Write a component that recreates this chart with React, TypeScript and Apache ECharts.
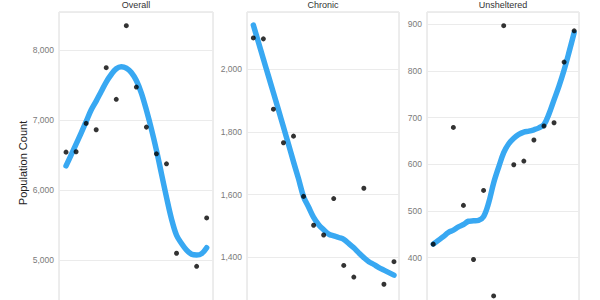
import React, { useEffect, useRef } from "react";
import * as echarts from "echarts";

const years = [2009, 2010, 2011, 2012, 2013, 2014, 2015, 2016, 2017, 2018, 2019, 2020, 2021, 2022, 2023];
const fitYears = [
  2009, 2009.5, 2010, 2010.5, 2011, 2011.5, 2012, 2012.5, 2013, 2013.5, 2014, 2014.5, 2015, 2015.5,
  2016, 2016.5, 2017, 2017.5, 2018, 2018.5, 2019, 2019.5, 2020, 2020.5, 2021, 2021.5, 2022, 2022.5, 2023,
];

const panelTitles = ["Overall", "Chronic", "Unsheltered"];

const overallCounts = [6543, 6548, 6953, 6862, 7748, 7296, 8347, 7471, 6900, 6519, 6376, 5100, null, 4914, 5604];
const chronicCounts = [2099, 2096, 1872, 1765, 1786, 1594, 1502, 1471, 1587, 1374, 1337, 1620, null, 1314, 1386];
const unshelteredCounts = [429, null, 679, 512, 396, 544, 318, 897, 599, 607, 652, 682, 689, 819, 886];

const overallFit = [
  6347, 6500, 6657, 6814, 6979, 7143, 7271, 7407, 7543, 7650, 7733, 7762, 7743, 7679, 7564, 7386, 7143, 6871,
  6570, 6235, 5900, 5590, 5357, 5240, 5145, 5086, 5075, 5095, 5180,
];
const chronicFit = [
  2140, 2086, 2032, 1978, 1924, 1870, 1815, 1760, 1704, 1650, 1593, 1560, 1527, 1504, 1488, 1474, 1468, 1463,
  1457, 1444, 1430, 1414, 1399, 1386, 1377, 1367, 1359, 1351, 1343,
];
const unshelteredFit = [
  429, 437, 445, 454, 459, 466, 471, 478, 479, 480, 488, 517, 560, 594, 625, 644, 656, 664, 669, 671, 674, 678,
  685, 708, 738, 768, 802, 841, 882,
];

// tick labels visible in the (cropped) view
const overallTicks = [5000, 6000, 7000, 8000];
const chronicTicks = [1400, 1600, 1800, 2000];
const unshelteredTicks = [400, 500, 600, 700, 800, 900];

const yAxisTitle = "Population Count";

const FONT = "'Liberation Sans', Arial, Helvetica, sans-serif";

export default function App() {
  const ref = useRef<HTMLDivElement>(null);

  useEffect(() => {
    if (!ref.current) return;
    const chart = echarts.init(ref.current, null, { renderer: "svg" });

    const grids = [
      { left: 59, top: 12, width: 154, height: 388.5 },
      { left: 247, top: 12, width: 152, height: 370.8 },
      { left: 427, top: 12, width: 152, height: 385.7 },
    ];
    const xRanges = [
      [2008.3, 2023.63],
      [2008.37, 2023.5],
      [2008.38, 2023.48],
    ];
    const yRanges = [
      { min: 3000, max: 8542, interval: 1000 },
      { min: 1000, max: 2181.6, interval: 200 },
      { min: 100, max: 926.3, interval: 100 },
    ];
    const tickLists = [overallTicks, chronicTicks, unshelteredTicks];
    const counts = [overallCounts, chronicCounts, unshelteredCounts];
    const fits = [overallFit, chronicFit, unshelteredFit];

    const series: any[] = [];
    for (let p = 0; p < 3; p++) {
      series.push({
        type: "line",
        xAxisIndex: p,
        yAxisIndex: p,
        data: fitYears.map((y, i) => [y, fits[p][i]]),
        smooth: 0.35,
        showSymbol: false,
        symbol: "none",
        lineStyle: { color: "#38a8f2", width: 5.5, cap: "round", join: "round" },
        z: 2,
      });
      series.push({
        type: "scatter",
        xAxisIndex: p,
        yAxisIndex: p,
        data: years
          .map((y, i) => [y, counts[p][i]])
          .filter((d) => d[1] !== null),
        symbolSize: 5,
        itemStyle: { color: "#000" },
        z: 3,
      });
    }

    const option: any = {
      animation: false,
      backgroundColor: "#fff",
      textStyle: { fontFamily: FONT },
      grid: grids.map((g) => ({
        ...g,
        show: true,
        borderColor: "#dadada",
        borderWidth: 1,
        backgroundColor: "transparent",
        containLabel: false,
      })),
      xAxis: xRanges.map((r, i) => ({
        type: "value",
        gridIndex: i,
        min: r[0],
        max: r[1],
        show: false,
      })),
      yAxis: yRanges.map((r, i) => ({
        type: "value",
        gridIndex: i,
        min: r.min,
        max: r.max,
        interval: r.interval,
        axisLine: { show: false },
        axisTick: { show: false },
        splitLine: { show: true, lineStyle: { color: "#ebebeb", width: 1 } },
        axisLabel: {
          color: "#7a7a7a",
          fontSize: 8.5,
          fontFamily: FONT,
          margin: 5,
          showMaxLabel: false,
          showMinLabel: false,
          formatter: (v: number) => (tickLists[i].indexOf(v) >= 0 ? v.toLocaleString("en-US") : ""),
        },
      })),
      graphic: [
        ...panelTitles.map((t, i) => ({
          type: "text",
          x: grids[i].left + grids[i].width / 2,
          y: 5,
          style: {
            text: t,
            align: "center",
            verticalAlign: "middle",
            fontSize: 9,
            fontFamily: FONT,
            fill: "#333",
          },
        })),
        {
          type: "text",
          x: 22.5,
          y: 163,
          rotation: Math.PI / 2,
          style: {
            text: yAxisTitle,
            align: "center",
            verticalAlign: "middle",
            fontSize: 11,
            fontFamily: FONT,
            fill: "#222",
          },
        },
      ],
      series,
    };

    chart.setOption(option);
    return () => chart.dispose();
  }, []);

  return (
    <div style={{ position: "fixed", left: 0, top: 0, width: 600, height: 300, overflow: "hidden", background: "#fff" }}>
      <div ref={ref} style={{ width: 600, height: 420 }} />
    </div>
  );
}
